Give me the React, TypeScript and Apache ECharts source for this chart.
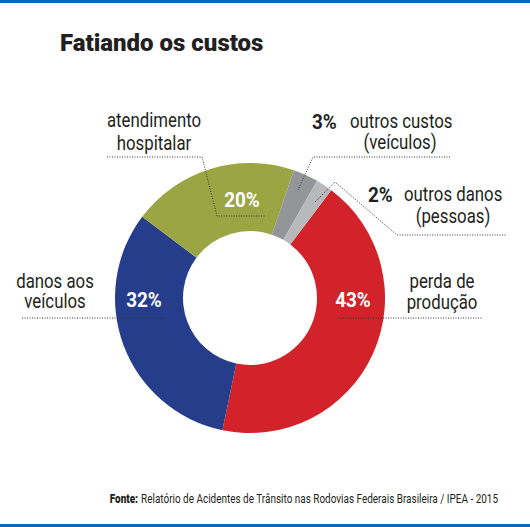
import React, { useEffect, useRef } from "react";
import * as echarts from "echarts";

const categories = [
  "perda de produção",
  "danos aos veículos",
  "atendimento hospitalar",
  "outros custos (veículos)",
  "outros danos (pessoas)",
];
const values = [43, 32, 20, 3, 2];
const colors = ["#d2232a", "#263d8c", "#9ca544", "#939598", "#b7b9bb"];

const FONT = "Roboto, 'Noto Sans', sans-serif";
const SX = 0.84;

export default function App() {
  const ref = useRef<HTMLDivElement>(null);
  useEffect(() => {
    if (!ref.current) return;
    const chart = echarts.init(ref.current, null, { renderer: "svg" });
    const pct = (i: number) => `${values[i]}%`;
    const nameText = (x: number, y: number, text: string, align = "center") => ({
      type: "text",
      x,
      y,
      scaleX: SX,
      z: 100,
      style: {
        text,
        font: `20px ${FONT}`,
        fill: "#231f20",
        textAlign: align,
        textVerticalAlign: "middle",
      },
    });
    const pctText = (x: number, y: number, text: string, fill: string, align = "center") => ({
      type: "text",
      x,
      y,
      scaleX: 0.9,
      z: 100,
      style: {
        text,
        font: `bold 21px ${FONT}`,
        fill,
        textAlign: align,
        textVerticalAlign: "middle",
      },
    });
    const dotted = (points: number[][]) => ({
      type: "polyline",
      z: 100,
      shape: { points },
      style: { stroke: "#333", lineWidth: 1, lineDash: [1, 1.5], fill: null },
    });
    chart.setOption({
      animation: false,
      backgroundColor: "#fff",
      series: [
        {
          type: "pie",
          z: 1,
          center: [250, 298],
          radius: [67, 135],
          startAngle: 53,
          clockwise: true,
          label: { show: false },
          labelLine: { show: false },
          emphasis: { disabled: true },
          data: categories.map((name, i) => ({
            name,
            value: values[i],
            itemStyle: { color: colors[i] },
          })),
        },
      ],
      graphic: [
        { type: "rect", z: 100, shape: { x: 0, y: 0, width: 530, height: 3 }, style: { fill: "#1467b3" } },
        { type: "rect", z: 100, shape: { x: 0, y: 524, width: 530, height: 3 }, style: { fill: "#1467b3" } },
        {
          type: "text",
          x: 60,
          y: 43,
          z: 100,
          style: {
            text: "Fatiando os custos",
            font: `900 24px ${FONT}`,
            fill: "#231f20",
            textVerticalAlign: "middle",
          },
        },
        nameText(154, 121, "atendimento"),
        nameText(154, 144, "hospitalar"),
        nameText(55, 282, "danos aos"),
        nameText(55, 302, "veículos"),
        nameText(442, 282, "perda de"),
        nameText(442, 303, "produção"),
        pctText(312, 122, pct(3), "#231f20", "left"),
        nameText(350, 122, "outros custos", "left"),
        nameText(400, 143, "(veículos)"),
        pctText(368, 195, pct(4), "#231f20", "left"),
        nameText(404, 195, "outros danos", "left"),
        nameText(453, 217, "(pessoas)"),
        dotted([[107, 157], [202, 157], [217, 216], [266, 216]]),
        dotted([[22, 318], [165, 318]]),
        dotted([[338, 318], [482, 318]]),
        dotted([[450, 157], [313, 157], [298, 190]]),
        dotted([[315, 202], [335, 182], [397, 235], [507, 235]]),
        pctText(242, 200, pct(2), "#fff"),
        pctText(144, 300, pct(1), "#fff"),
        pctText(353, 300, pct(0), "#fff"),
        {
          type: "text",
          x: 498,
          y: 499,
          z: 100,
          scaleX: 0.83,
          style: {
            text: "{b|Fonte:} Relatório de Acidentes de Trânsito nas Rodovias Federais Brasileira / IPEA - 2015",
            font: `12px ${FONT}`,
            fill: "#231f20",
            textAlign: "right",
            textVerticalAlign: "middle",
            rich: {
              b: { fontWeight: 900, fontFamily: FONT, fontSize: 12, fill: "#231f20" },
            },
          },
        },
      ],
    });
    return () => chart.dispose();
  }, []);
  return (
    <div
      ref={ref}
      style={{ position: "fixed", left: 0, top: 0, width: 530, height: 527 }}
    />
  );
}
